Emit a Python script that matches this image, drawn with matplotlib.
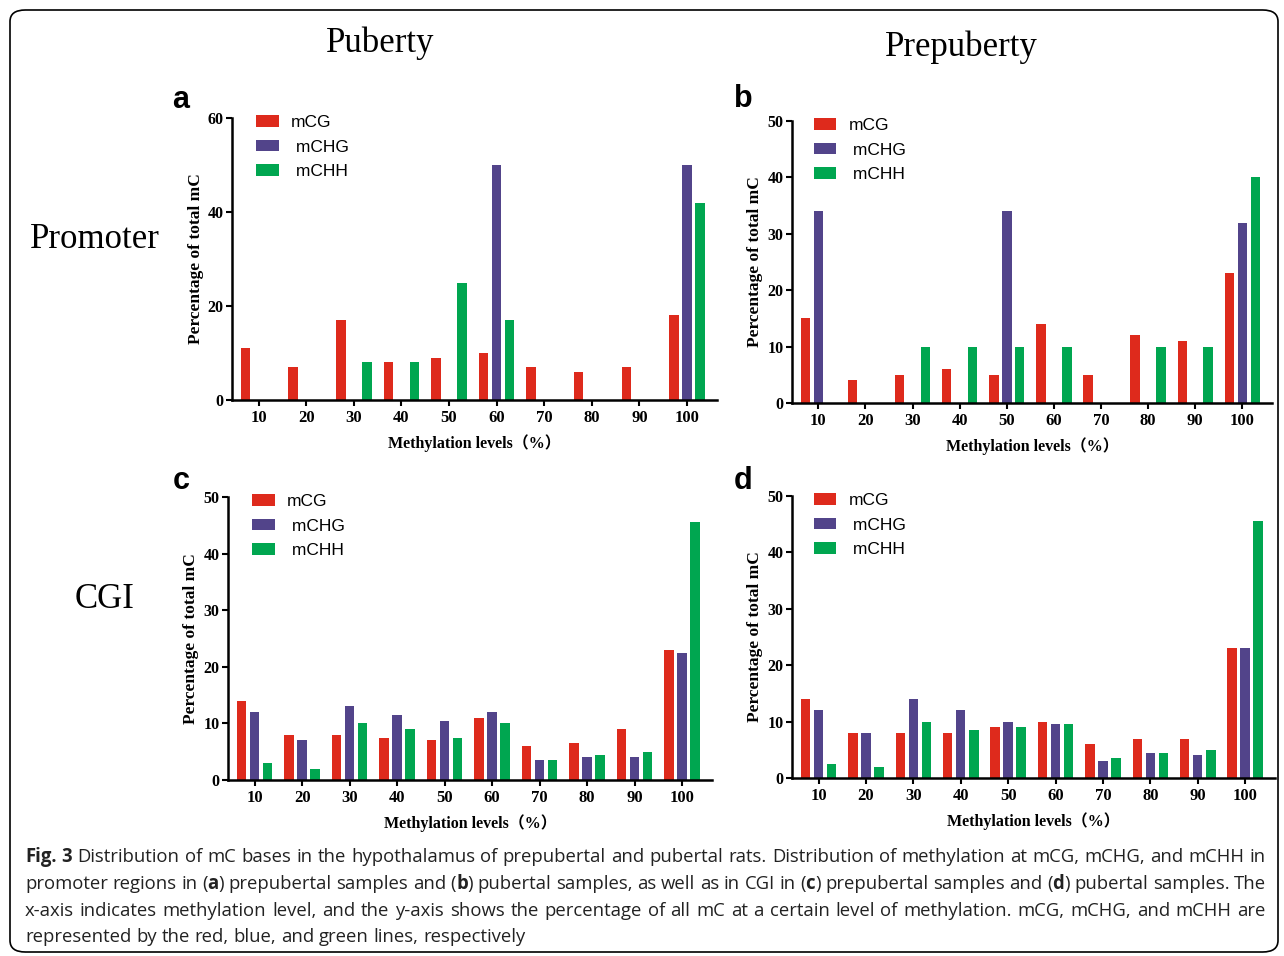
import matplotlib
matplotlib.use("Agg")
import matplotlib.pyplot as plt
import numpy as np
from matplotlib.patches import FancyBboxPatch

# methylation level groups
levels = np.array([10, 20, 30, 40, 50, 60, 70, 80, 90, 100])

# (a) Puberty, promoter
a_mcg = [11, 7, 17, 8, 9, 10, 7, 6, 7, 18]
a_mchg = [0, 0, 0, 0, 0, 50, 0, 0, 0, 50]
a_mchh = [0, 0, 8, 8, 25, 17, 0, 0, 0, 42]

# (b) Prepuberty, promoter
b_mcg = [15, 4, 5, 6, 5, 14, 5, 12, 11, 23]
b_mchg = [34, 0, 0, 0, 34, 0, 0, 0, 0, 32]
b_mchh = [0, 0, 10, 10, 10, 10, 0, 10, 10, 40]

# (c) Puberty, CGI
c_mcg = [14, 8, 8, 7.5, 7, 11, 6, 6.5, 9, 23]
c_mchg = [12, 7, 13, 11.5, 10.5, 12, 3.5, 4, 4, 22.5]
c_mchh = [3, 2, 10, 9, 7.5, 10, 3.5, 4.5, 5, 45.5]

# (d) Prepuberty, CGI
d_mcg = [14, 8, 8, 8, 9, 10, 6, 7, 7, 23]
d_mchg = [12, 8, 14, 12, 10, 9.5, 3, 4.5, 4, 23]
d_mchh = [2.5, 2, 10, 8.5, 9, 9.5, 3.5, 4.5, 5, 45.5]

series_names = ["mCG", " mCHG", " mCHH"]
colors = ["#de2a1c", "#52448a", "#00a650"]

W, H = 1284, 956
SERIF = ["Liberation Serif", "Noto Sans CJK SC"]
SANS = ["Liberation Sans", "DejaVu Sans"]


def px_rect(left, right, bottom, top):
    """Pixel box (from top-left) to figure fraction rect."""
    return [left / W, 1 - bottom / H, (right - left) / W, (bottom - top) / H]


def draw_panel(fig, rect, data, ymax, ystep, letter, letter_xy, leg_anchor):
    ax = fig.add_axes(rect)
    off, width = 2.75, 2.0
    handles = []
    for k, (vals, col) in enumerate(zip(data, colors)):
        bars = ax.bar(levels + (k - 1) * off, vals, width=width, color=col, linewidth=0)
        handles.append(bars)
    ax.set_xlim(4.4, 106.3)
    ax.set_ylim(0, ymax)
    ax.set_xticks(levels)
    ax.set_yticks(np.arange(0, ymax + 1, ystep))
    for s in ["top", "right"]:
        ax.spines[s].set_visible(False)
    for s in ["left", "bottom"]:
        ax.spines[s].set_linewidth(1.8)
    ax.tick_params(length=4, width=1.5, pad=3)
    ax.tick_params(axis="x", labelsize=12)
    ax.tick_params(axis="y", labelsize=11.5, pad=2)
    for lab in ax.get_xticklabels() + ax.get_yticklabels():
        lab.set_family(SERIF)
        lab.set_fontweight("bold")
    ax.set_ylabel("Percentage of total mC", family=SERIF, fontweight="bold",
                  fontsize=12.5, labelpad=3)
    ax.set_xlabel("Methylation levels（%）", family=SERIF, fontweight="bold",
                  fontsize=11.5, labelpad=6)
    ax.legend(handles, series_names, loc="upper left", bbox_to_anchor=leg_anchor,
              frameon=False, prop={"family": SANS, "size": 12.5},
              handlelength=1.3, handleheight=0.65, handletextpad=0.7,
              labelspacing=0.55, borderpad=0, borderaxespad=0)
    fig.text(letter_xy[0] / W, 1 - letter_xy[1] / H, letter, family=SANS,
             fontweight="bold", fontsize=22, ha="center", va="center")
    return ax


fig = plt.figure(figsize=(W / 100, H / 100), dpi=100)

# rounded outer frame
frame = FancyBboxPatch((10 / W, 1 - 952 / H), 1268 / W, 942 / H,
                       boxstyle="round,pad=0,rounding_size=0.012",
                       transform=fig.transFigure, fill=False,
                       edgecolor="black", linewidth=1.2)
fig.patches.append(frame)

draw_panel(fig, px_rect(232, 717, 400, 118), [a_mcg, a_mchg, a_mchh], 60, 20,
           "a", (181, 100), (0.05, 1.01))
draw_panel(fig, px_rect(792, 1272, 403, 121), [b_mcg, b_mchg, b_mchh], 50, 10,
           "b", (743, 99), (0.045, 1.01))
draw_panel(fig, px_rect(228, 712, 780, 497), [c_mcg, c_mchg, c_mchh], 50, 10,
           "c", (181, 481), (0.05, 1.01))
draw_panel(fig, px_rect(792, 1275, 778, 496), [d_mcg, d_mchg, d_mchh], 50, 10,
           "d", (743, 481), (0.045, 1.01))

# column and row headers
fig.text(380 / W, 1 - 43 / H, "Puberty", family=SERIF, fontsize=25,
         ha="center", va="center")
fig.text(961 / W, 1 - 47 / H, "Prepuberty", family=SERIF, fontsize=25,
         ha="center", va="center")
fig.text(95 / W, 1 - 240 / H, "Promoter", family=SERIF, fontsize=25,
         ha="center", va="center")
fig.text(105 / W, 1 - 600 / H, "CGI", family=SERIF, fontsize=25,
         ha="center", va="center")

# caption, drawn word by word so bold pieces sit inline and lines justify
CAP = ["Open Sans", "DejaVu Sans"]
caption = [
    (862, True, [("Fig. 3", True), (" Distribution of mC bases in the hypothalamus of prepubertal and pubertal rats. Distribution of methylation at mCG, mCHG, and mCHH in", False)]),
    (889, True, [("promoter regions in (", False), ("a", True), (") prepubertal samples and (", False), ("b", True),
                 (") pubertal samples, as well as in CGI in (", False), ("c", True), (") prepubertal samples and (", False),
                 ("d", True), (") pubertal samples. The", False)]),
    (916, True, [("x-axis indicates methylation level, and the y-axis shows the percentage of all mC at a certain level of methylation. mCG, mCHG, and mCHH are", False)]),
    (942, False, [("represented by the red, blue, and green lines, respectively", False)]),
]

renderer = fig.canvas.get_renderer()
X0, X1 = 25.0, 1266.0


def text_w(s, size, bold):
    t = fig.text(0, 0, s, family=CAP, fontsize=size, fontweight="bold" if bold else "normal")
    w = t.get_window_extent(renderer).width
    t.remove()
    return w


def line_layout(runs, size):
    pieces = []  # (text, bold, gap_before)
    for s, bold in runs:
        parts = s.split(" ")
        for i, p in enumerate(parts):
            pieces.append((p, bold, i > 0))
    widths = [text_w(p, size, b) if p else 0.0 for p, b, _ in pieces]
    n_gaps = sum(g for _, _, g in pieces)
    return pieces, widths, n_gaps


def draw_line(y, justify, runs, size, space_w):
    pieces, widths, n_gaps = line_layout(runs, size)
    natural = sum(widths) + n_gaps * space_w
    gap = space_w + ((X1 - X0 - natural) / n_gaps if justify and n_gaps else 0)
    x = X0
    for (p, bold, g), w in zip(pieces, widths):
        if g:
            x += gap
        if p:
            fig.text(x / W, 1 - y / H, p, family=CAP, fontsize=size,
                     fontweight="bold" if bold else "normal", va="baseline",
                     color="#222222")
        x += w


# size the caption so the widest line fits within the frame
cap_size = 13.0
sp = text_w("a a", cap_size, False) - text_w("aa", cap_size, False)
widest = max(sum(line_layout(r, cap_size)[1]) + line_layout(r, cap_size)[2] * sp
             for _, _, r in caption)
cap_size *= (X1 - X0 - 4) / widest
sp = text_w("a a", cap_size, False) - text_w("aa", cap_size, False)

for y, just, runs in caption:
    draw_line(y, just, runs, cap_size, sp)

fig.savefig("out.png", dpi=100)
